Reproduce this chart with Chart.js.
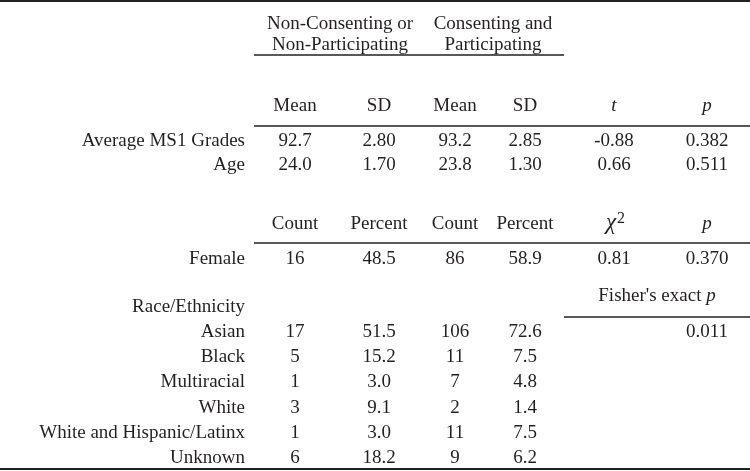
<!DOCTYPE html>
<html>
<head>
<meta charset="utf-8">
<script src="https://cdn.jsdelivr.net/npm/chart.js@4"></script>
<style>
  html, body { margin: 0; padding: 0; background: #fff; }
  #wrap { width: 750px; height: 471px; position: relative; }
</style>
</head>
<body>
<div id="wrap"><canvas id="tableChart"></canvas></div>
<script>
// Datos de la tabla
var groupTitles = [['Non-Consenting or', 'Non-Participating'], ['Consenting and', 'Participating']];
var contHeaders = ['Mean', 'SD', 'Mean', 'SD', 't', 'p'];
var contRows = ['Average MS1 Grades', 'Age'];
var gradesValues = ['92.7', '2.80', '93.2', '2.85', '-0.88', '0.382'];
var ageValues = ['24.0', '1.70', '23.8', '1.30', '0.66', '0.511'];

var catHeaders = ['Count', 'Percent', 'Count', 'Percent', 'χ2', 'p'];
var femaleValues = ['16', '48.5', '86', '58.9', '0.81', '0.370'];

var raceTitle = 'Race/Ethnicity';
var fisherTitle = "Fisher's exact p";
var raceCategories = ['Asian', 'Black', 'Multiracial', 'White', 'White and Hispanic/Latinx', 'Unknown'];
var nonCount = ['17', '5', '1', '3', '1', '6'];
var nonPercent = ['51.5', '15.2', '3.0', '9.1', '3.0', '18.2'];
var consCount = ['106', '11', '7', '2', '11', '9'];
var consPercent = ['72.6', '7.5', '4.8', '1.4', '7.5', '6.2'];
var fisherP = '0.011';

// Posiciones de columnas y filas (en unidades de las escalas)
var colX = [295, 379, 455, 525, 614, 707];
var groupX = [340, 493];
var labelX = 245;
var fisherX = 657;
var raceStartY = 337, raceStep = 25.2;

var ink = '#231f20';
var font = '"Liberation Serif", "Times New Roman", serif';

var tablePlugin = {
    id: 'tablePlugin',
    afterDraw: function(chart) {
        var ctx = chart.ctx;
        var sx = chart.scales.x, sy = chart.scales.y;
        var X = function(v) { return sx.getPixelForValue(v); };
        var Y = function(v) { return sy.getPixelForValue(v); };

        ctx.save();
        ctx.fillStyle = ink;
        ctx.strokeStyle = ink;
        ctx.textBaseline = 'alphabetic';

        function text(str, x, y, align, style) {
            ctx.font = (style || '') + ' 19px ' + font;
            ctx.textAlign = align || 'center';
            ctx.fillText(str, X(x), Y(y));
        }
        function hline(x1, x2, y, w) {
            ctx.lineWidth = w;
            ctx.beginPath();
            ctx.moveTo(X(x1), Y(y));
            ctx.lineTo(X(x2), Y(y));
            ctx.stroke();
        }
        function header(str, x, y) {
            if (str === 't' || str === 'p') {
                text(str, x, y, 'center', 'italic');
            } else if (str === 'χ2') {
                // chi cuadrado con superindice
                ctx.textAlign = 'left';
                ctx.font = 'italic 23px ' + font;
                var w1 = ctx.measureText('χ').width;
                var left = X(x) - 8;
                ctx.fillText('χ', left, Y(y));
                ctx.font = '16px ' + font;
                ctx.fillText('2', left + w1 + 1, Y(y) - 6);
            } else {
                text(str, x, y);
            }
        }

        // Lineas
        hline(0, 750, 1, 2);
        hline(254, 564, 55, 1.5);
        hline(254, 750, 126, 1.5);
        hline(254, 750, 243, 1.5);
        hline(564, 750, 317, 1.5);
        hline(0, 750, 469, 2);

        // Encabezados de grupo
        groupTitles.forEach(function(lines, i) {
            text(lines[0], groupX[i], 29);
            text(lines[1], groupX[i], 50);
        });

        // Variables continuas
        contHeaders.forEach(function(h, i) { header(h, colX[i], 111); });
        text(contRows[0], labelX, 146, 'right');
        text(contRows[1], labelX, 170, 'right');
        gradesValues.forEach(function(v, i) { text(v, colX[i], 146); });
        ageValues.forEach(function(v, i) { text(v, colX[i], 170); });

        // Variables categoricas
        catHeaders.forEach(function(h, i) { header(h, colX[i], 229); });
        text('Female', labelX, 264, 'right');
        femaleValues.forEach(function(v, i) { text(v, colX[i], 264); });

        // Fisher's exact p
        ctx.font = '19px ' + font;
        var base = fisherTitle.slice(0, -1);
        var wb = ctx.measureText(base).width;
        ctx.font = 'italic 19px ' + font;
        var wp = ctx.measureText('p').width;
        var fl = X(fisherX) - (wb + wp) / 2;
        ctx.textAlign = 'left';
        ctx.font = '19px ' + font;
        ctx.fillText(base, fl, Y(301));
        ctx.font = 'italic 19px ' + font;
        ctx.fillText('p', fl + wb, Y(301));

        text(raceTitle, labelX, 312, 'right');
        raceCategories.forEach(function(cat, i) {
            var y = raceStartY + raceStep * i;
            text(cat, labelX, y, 'right');
            text(nonCount[i], colX[0], y);
            text(nonPercent[i], colX[1], y);
            text(consCount[i], colX[2], y);
            text(consPercent[i], colX[3], y);
        });
        text(fisherP, colX[5], raceStartY);

        ctx.restore();
    }
};

var tableChart = new Chart(document.getElementById('tableChart'), {
    type: 'scatter',
    data: { datasets: [{ data: [], pointRadius: 0 }] },
    options: {
        responsive: true,
        maintainAspectRatio: false,
        animation: false,
        layout: { padding: 0 },
        plugins: { legend: { display: false }, tooltip: { enabled: false } },
        scales: {
            x: { type: 'linear', min: 0, max: 750, display: false },
            y: { type: 'linear', min: 0, max: 471, reverse: true, display: false }
        }
    },
    plugins: [tablePlugin]
});
</script>
</body>
</html>
